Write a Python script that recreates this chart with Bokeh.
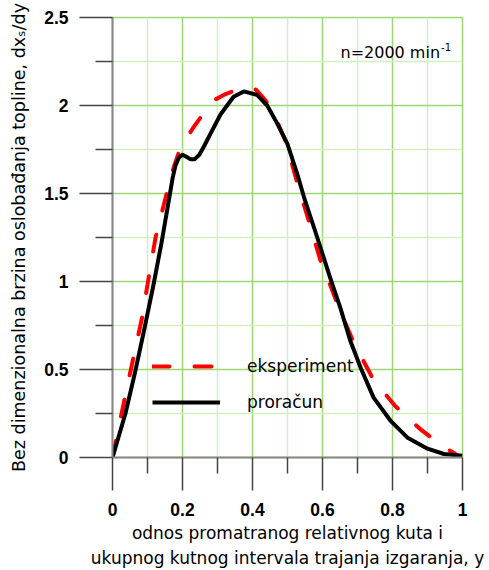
import math
from bokeh.plotting import figure
from bokeh.models import FixedTicker, Label, Legend, LegendItem, Range1d
from bokeh.embed import file_html
from bokeh.resources import INLINE

# ---- data ----
x_exp = [0, 0.028, 0.06, 0.085, 0.104, 0.123, 0.151, 0.175, 0.194, 0.231, 0.251, 0.29, 0.323,
         0.37, 0.41, 0.437, 0.466, 0.494, 0.528, 0.56, 0.594, 0.622, 0.651, 0.69, 0.746, 0.809,
         0.88, 0.946, 0.98]
y_exp = [0, 0.27, 0.57, 0.80, 1.03, 1.25, 1.47, 1.65, 1.76, 1.875, 1.93, 2.03, 2.065,
         2.10, 2.09, 2.03, 1.93, 1.80, 1.56, 1.35, 1.12, 0.98, 0.83, 0.65, 0.44, 0.29,
         0.16, 0.06, 0.02]

x_calc = [0, 0.037, 0.064, 0.09, 0.118, 0.14, 0.16, 0.172, 0.18, 0.19, 0.2, 0.21, 0.222, 0.235,
          0.248, 0.262, 0.28, 0.309, 0.346, 0.375, 0.413, 0.442, 0.47, 0.5, 0.528, 0.547,
          0.585, 0.622, 0.651, 0.68, 0.709, 0.746, 0.794, 0.842, 0.9, 0.947, 1.0]
y_calc = [0, 0.25, 0.48, 0.72, 0.99, 1.22, 1.45, 1.59, 1.66, 1.705, 1.72, 1.71, 1.695, 1.695,
          1.72, 1.77, 1.84, 1.95, 2.05, 2.08, 2.06, 2.0, 1.90, 1.78, 1.61, 1.48,
          1.25, 1.02, 0.85, 0.66, 0.51, 0.34, 0.21, 0.114, 0.05, 0.02, 0.01]

x_ticks = [0, 0.2, 0.4, 0.6, 0.8, 1.0]
x_tick_labels = ["0", "0.2", "0.4", "0.6", "0.8", "1"]
x_minor = [0.1, 0.3, 0.5, 0.7, 0.9]
y_ticks = [0, 0.5, 1.0, 1.5, 2.0, 2.5]
y_tick_labels = ["0", "0.5", "1", "1.5", "2", "2.5"]
y_minor = [0.25, 0.75, 1.25, 1.75, 2.25]

series_names = ["eksperiment", "proračun"]
y_title = "Bez dimenzionalna brzina oslobađanja topline, dx\u209b/dy"
x_title = "odnos promatranog relativnog kuta i\nukupnog kutnog intervala trajanja izgaranja, y"
note_main = "n=2000 min"
note_sup = "-1"

# ---- style ----
FONT = "DejaVu Sans"
TICK_FONT = "Liberation Sans"
MAJOR_G = "#9ed672"
MINOR_G = "#cdf1c0"

# DejaVu Sans advance widths (per 1000 em)
DJ = {' ': 318, '=': 838, 'i': 278, 'm': 974, 'n': 634}
for c in "0123456789":
    DJ[c] = 636


def tw(s, size):
    return sum(DJ.get(c, 600) for c in s) * size / 1000.0


p = figure(frame_width=350, frame_height=440,
           x_range=Range1d(0, 1), y_range=Range1d(0, 2.5),
           output_backend="svg", toolbar_location=None,
           min_border_left=112, min_border_right=27,
           min_border_top=17, min_border_bottom=113)
p.background_fill_color = "white"
p.border_fill_color = "white"
p.outline_line_color = MAJOR_G
p.outline_line_width = 1.5

xt = FixedTicker(ticks=x_ticks, minor_ticks=x_minor)
yt = FixedTicker(ticks=y_ticks, minor_ticks=y_minor)
p.xaxis[0].ticker = xt
p.yaxis[0].ticker = yt
p.xgrid[0].ticker = xt
p.ygrid[0].ticker = yt
for g in (p.xgrid[0], p.ygrid[0]):
    g.grid_line_color = MAJOR_G
    g.grid_line_width = 1.5
    g.grid_line_alpha = 1.0
    g.minor_grid_line_color = MINOR_G
    g.minor_grid_line_width = 1.5
    g.minor_grid_line_alpha = 1.0

p.xaxis[0].major_label_overrides = dict(zip(x_ticks, x_tick_labels))
p.yaxis[0].major_label_overrides = dict(zip(y_ticks, y_tick_labels))

for ax in (p.xaxis[0], p.yaxis[0]):
    ax.axis_line_color = "#888888"
    ax.axis_line_width = 2
    ax.major_tick_line_color = "#444444"
    ax.minor_tick_line_color = "#444444"
    ax.major_tick_line_width = 1.5
    ax.minor_tick_line_width = 1.5
    ax.major_tick_in = 0
    ax.minor_tick_in = 0
    ax.major_tick_out = 33
    ax.major_label_text_font = TICK_FONT
    ax.major_label_text_font_style = "bold"
    ax.major_label_text_font_size = "17.5px"
    ax.major_label_text_color = "black"
    ax.axis_label_text_font = FONT
    ax.axis_label_text_font_style = "normal"
    ax.axis_label_text_color = "black"
p.xaxis[0].minor_tick_out = 16
p.yaxis[0].minor_tick_out = 17
p.xaxis[0].major_label_standoff = 12
p.yaxis[0].major_label_standoff = 11

p.yaxis[0].axis_label = y_title
p.yaxis[0].axis_label_text_font_size = "17.5px"
p.yaxis[0].axis_label_standoff = 12
p.xaxis[0].axis_label = x_title
p.xaxis[0].axis_label_text_font_size = "17px"
p.xaxis[0].axis_label_text_line_height = 1.28
p.xaxis[0].axis_label_standoff = 4

r_exp = p.line(x_exp, y_exp, line_color="#ff0000", line_width=4,
               line_dash="17 25", line_cap="round")
r_calc = p.line(x_calc, y_calc, line_color="black", line_width=4, line_join="round")

legend = Legend(items=[LegendItem(label=series_names[0], renderers=[r_exp]),
                       LegendItem(label=series_names[1], renderers=[r_calc])],
                location=(40, 45), orientation="vertical",
                border_line_color=None, background_fill_color=None,
                padding=0, margin=0, spacing=16,
                glyph_width=68, glyph_height=20, label_height=20,
                label_standoff=27,
                label_text_font=FONT, label_text_font_size="17px",
                label_text_color="black")
p.add_layout(legend)

# annotation inside the frame (screen units relative to frame bottom-left)
FR_L, FR_B = 112, 457
w_note = tw(note_main, 16)
p.add_layout(Label(x=340 - FR_L, y=FR_B - 52, x_units="screen", y_units="screen",
                   text=note_main, text_font=FONT, text_font_size="16px",
                   text_color="black", text_align="left", text_baseline="alphabetic"))
p.add_layout(Label(x=340 - FR_L + w_note + 1, y=FR_B - 46, x_units="screen", y_units="screen",
                   text=note_sup, text_font=FONT, text_font_size="10px",
                   text_color="black", text_align="left", text_baseline="alphabetic"))

open("out.html", "w").write(file_html(p, INLINE))
